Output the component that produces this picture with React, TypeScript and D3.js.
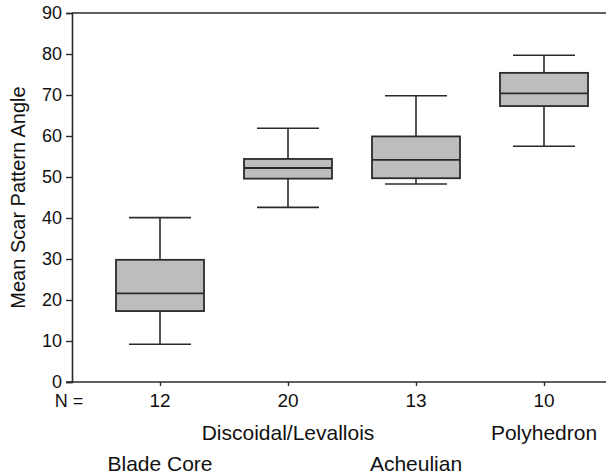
import React, { useRef, useEffect } from 'react'
import * as d3 from 'd3'

// Box plot: mean scar pattern angle by core type
const categories = ['Blade Core', 'Discoidal/Levallois', 'Acheulian', 'Polyhedron']
const counts = [12, 20, 13, 10]
const whiskerLow = [9.2, 42.6, 48.3, 57.5]
const q1 = [17.3, 49.6, 49.7, 67.3]
const median = [21.6, 52.2, 54.2, 70.4]
const q3 = [29.8, 54.4, 59.9, 75.4]
const whiskerHigh = [40.1, 61.9, 69.8, 79.7]
const yTicks = [0, 10, 20, 30, 40, 50, 60, 70, 80, 90]

export default function App() {
  const svgRef = useRef<SVGSVGElement | null>(null)

  useEffect(() => {
    const svg = d3.select(svgRef.current)
    svg.selectAll('*').remove()

    const width = 606
    const height = 474
    const margin = { top: 13, right: 0, bottom: 92, left: 72 }
    const font = 'Liberation Sans, Arial, sans-serif'
    const ink = '#2b2b2b'

    const y = d3.scaleLinear().domain([0, 90]).range([height - margin.bottom, margin.top])
    const x = d3.scalePoint<string>().domain(categories).range([160, 544])

    const boxW = 88
    const capW = 62

    // cadre : gauche, haut, bas (pas de bord droit)
    svg.append('line')
      .attr('x1', margin.left).attr('x2', width)
      .attr('y1', y(90)).attr('y2', y(90))
      .attr('stroke', ink).attr('stroke-width', 1.6)

    const yAxis = svg.append('g')
      .attr('transform', `translate(${margin.left},0)`)
      .call(d3.axisLeft(y).tickValues(yTicks).tickSize(6).tickPadding(4))
    yAxis.select('.domain').attr('stroke', ink).attr('stroke-width', 1.6)
    yAxis.selectAll('.tick line').attr('stroke', ink).attr('stroke-width', 1.4)
    yAxis.selectAll('.tick text')
      .attr('fill', '#111').style('font-family', font).style('font-size', '18px')

    const xAxis = svg.append('g')
      .attr('transform', `translate(0,${y(0)})`)
      .call(d3.axisBottom(x).tickSize(4).tickFormat(() => ''))
    xAxis.select('.domain').remove()
    xAxis.selectAll('.tick line').attr('stroke', ink).attr('stroke-width', 1.4)
    xAxis.append('line')
      .attr('x1', margin.left - 6).attr('x2', width)
      .attr('stroke', ink).attr('stroke-width', 1.6)

    // boîtes
    const g = svg.append('g')
    categories.forEach((c, i) => {
      const cx = x(c) as number
      g.append('line')
        .attr('x1', cx).attr('x2', cx)
        .attr('y1', y(whiskerHigh[i])).attr('y2', y(q3[i]))
        .attr('stroke', ink).attr('stroke-width', 1.6)
      g.append('line')
        .attr('x1', cx).attr('x2', cx)
        .attr('y1', y(q1[i])).attr('y2', y(whiskerLow[i]))
        .attr('stroke', ink).attr('stroke-width', 1.6)
      ;[whiskerHigh[i], whiskerLow[i]].forEach((v) => {
        g.append('line')
          .attr('x1', cx - capW / 2).attr('x2', cx + capW / 2)
          .attr('y1', y(v)).attr('y2', y(v))
          .attr('stroke', ink).attr('stroke-width', 1.6)
      })
      g.append('rect')
        .attr('x', cx - boxW / 2).attr('width', boxW)
        .attr('y', y(q3[i])).attr('height', y(q1[i]) - y(q3[i]))
        .attr('fill', '#bdbdbd').attr('stroke', ink).attr('stroke-width', 1.8)
      g.append('line')
        .attr('x1', cx - boxW / 2).attr('x2', cx + boxW / 2)
        .attr('y1', y(median[i])).attr('y2', y(median[i]))
        .attr('stroke', ink).attr('stroke-width', 1.8)
    })

    // effectifs et noms
    const txt = svg.append('g').style('font-family', font).attr('fill', '#111')
    txt.append('text').attr('x', 69).attr('y', 407).attr('text-anchor', 'middle')
      .style('font-size', '18px').text('N =')
    categories.forEach((c, i) => {
      const cx = x(c) as number
      txt.append('text').attr('x', cx).attr('y', 407).attr('text-anchor', 'middle')
        .style('font-size', '19px').text(counts[i])
      txt.append('text')
        .attr('x', cx).attr('y', i % 2 === 1 ? 440 : 471)
        .attr('text-anchor', 'middle')
        .style('font-size', '21px')
        .text(c)
    })

    svg.append('text')
      .attr('transform', `translate(25,${(y(0) + y(90)) / 2}) rotate(-90)`)
      .attr('text-anchor', 'middle')
      .style('font-family', font).style('font-size', '20px').attr('fill', '#111')
      .text('Mean Scar Pattern Angle')
  }, [])

  return (
    <svg ref={svgRef} width={606} height={474}
      style={{ position: 'absolute', left: 0, top: 0, background: '#fff' }} />
  )
}
